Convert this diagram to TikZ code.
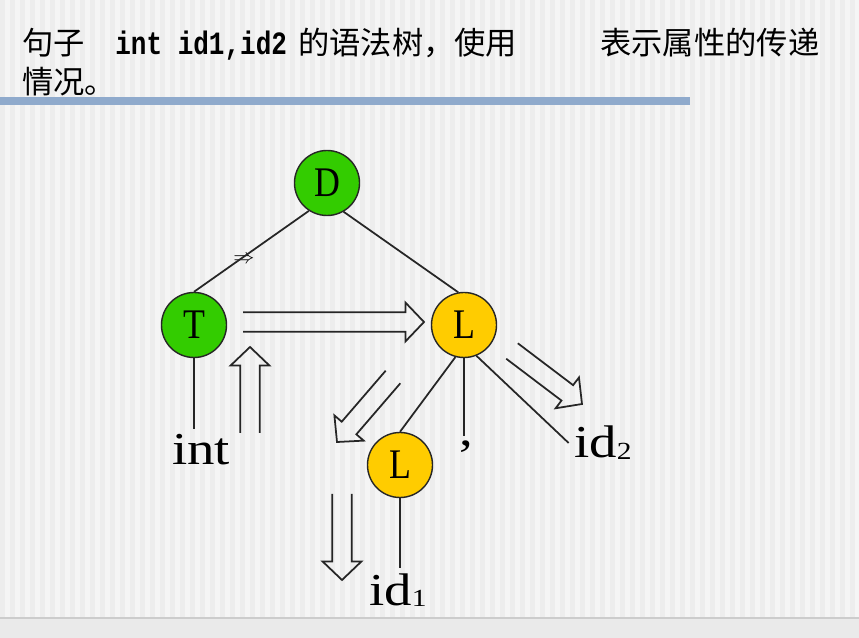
\documentclass[tikz,border=0pt]{standalone}
\usepackage{fontspec}
\setmainfont{Liberation Serif}
\newfontfamily\cjk{Noto Sans CJK SC}
\newfontfamily\titlemono[FakeStretch=0.8]{Liberation Mono}
\newfontfamily\circfont[FakeStretch=0.85]{Liberation Serif}
\newfontfamily\leaffont[FakeStretch=1.2]{Liberation Serif}
\usepackage{tikz}
\usetikzlibrary{calc,positioning}

\definecolor{nodegreen}{RGB}{51,204,0}
\definecolor{nodeyellow}{RGB}{255,204,0}
\definecolor{barblue}{RGB}{143,170,204}
\definecolor{bgbase}{RGB}{245,245,245}
\definecolor{bgstripe}{RGB}{237,237,237}
\definecolor{bgfoot}{RGB}{234,234,234}

% hollow double arrow from #1 (tail) to #2 (tip)
\newcommand{\fatarrow}[2]{%
  \coordinate (fa) at ($(#2)!10.5pt!(#1)$);
  \draw[fat] ($(#1)!5.5pt!90:(#2)$) -- ($(fa)!5.5pt!90:(#2)$) -- ($(fa)!11pt!90:(#2)$) -- (#2)
    -- ($(fa)!11pt!-90:(#2)$) -- ($(fa)!5.5pt!-90:(#2)$) -- ($(#1)!5.5pt!-90:(#2)$);
}

\begin{document}
\begin{tikzpicture}[
    x=0.02cm, y=-0.02cm,
    sym/.style={circle, draw=black!85, line width=0.8pt, minimum size=37pt, inner sep=0pt, font=\circfont\fontsize{24pt}{24pt}\selectfont},
    green/.style={sym, fill=nodegreen},
    yellow/.style={sym, fill=nodeyellow},
    leaf/.style={anchor=base, inner sep=3pt, font=\leaffont\fontsize{26pt}{26pt}\selectfont},
    edge/.style={draw=black!85, line width=1pt},
    fat/.style={draw=black!85, line width=1pt, line join=miter},
    title/.style={anchor=base west, inner sep=0pt, font=\cjk\fontsize{17.8pt}{17.8pt}\selectfont}
]
\useasboundingbox (0,0) rectangle (859,638);
\fill[bgbase] (0,0) rectangle (859,638);
\foreach \x in {0,10,...,850}
    \fill[bgstripe] (\x,0) rectangle ++(5,618);
\fill[bgfoot] (0,618) rectangle (859,638);
\draw[black!20, line width=0.6pt] (0,618) -- (859,618);

\node[title] (s1) at (22,55) {句子};
\node[title, font=\titlemono\bfseries\fontsize{18.5pt}{18.5pt}\selectfont] (s2) at (115,55) {int id1,id2};
\node[title] (s3) at (298,55) {的语法树，使用};
\node[title] (s4) at (600,55) {表示属性的传递};
\node[title] (s5) at (22,94) {情况。};
\fill[barblue] (0,97) rectangle (690,105);

\node[green] (D) at (327,183) {D};
\node[green] (T) at (194,325) {T};
\node[yellow] (L) at (464,325) {L};
\node[yellow] (L1) at (400,465) {L};
\node[leaf] (int) at (201,465) {int};
\node[leaf] (comma) at (466,446) {,};
\node[leaf] (id2) at (603,458) {id\raisebox{-1pt}{\fontsize{14pt}{14pt}\selectfont 2}};
\node[leaf] (id1) at (398,605) {id\raisebox{-1pt}{\fontsize{14pt}{14pt}\selectfont 1}};
\node[inner sep=0pt, font=\fontsize{12pt}{12pt}\selectfont] (imp) at (244,260) {$\Rightarrow$};

\draw[edge] (D.237) -- (T.north);
\draw[edge] (D.-60) -- (L.100);
\draw[edge] (T.south) -- (T.south |- int.north);
\draw[edge] (L.255) -- (L1.north);
\draw[edge] (L.south) -- (L.south |- comma.north);
\draw[edge] (L.-68) -- (id2.west);
\draw[edge] (L1.south) -- (L1.south |- id1.north);

\coordinate (tl0) at (243,322);
\coordinate (tl1) at (424,322);
\coordinate (up0) at (250,433);
\coordinate (up1) at (250,347);
\coordinate (dl0) at (393,377);
\coordinate (dl1) at (337,442);
\coordinate (dr0) at (512,351);
\coordinate (dr1) at (582,404);
\coordinate (dn0) at (342,494);
\coordinate (dn1) at (342,580);
\fatarrow{tl0}{tl1}
\fatarrow{up0}{up1}
\fatarrow{dl0}{dl1}
\fatarrow{dr0}{dr1}
\fatarrow{dn0}{dn1}
\end{tikzpicture}
\end{document}
